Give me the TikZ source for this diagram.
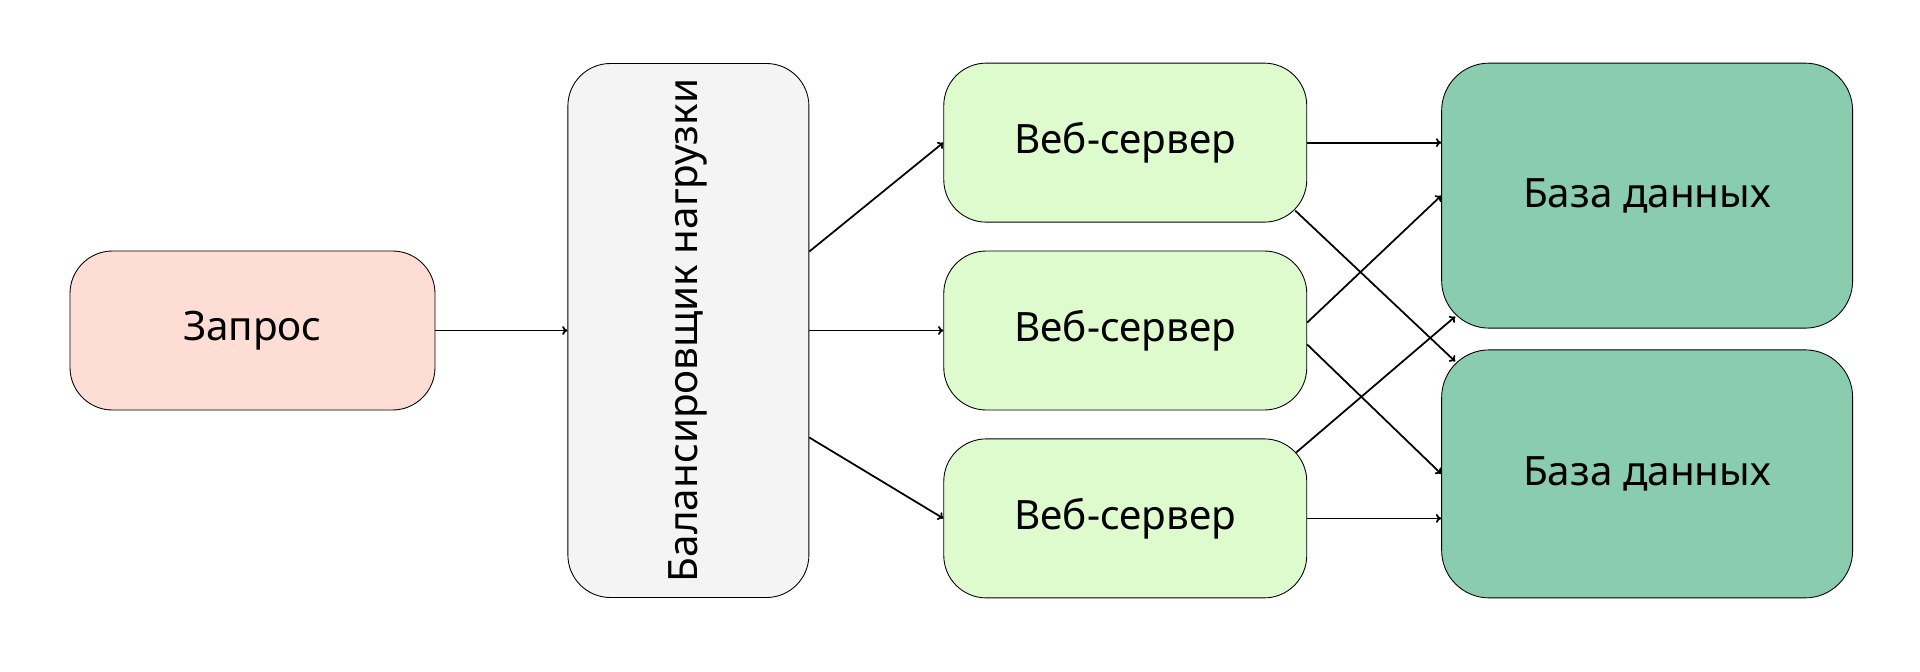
\documentclass[tikz,border=0pt]{standalone}
\usepackage{fontspec}
\setmainfont{Noto Sans}
\usetikzlibrary{positioning, arrows.meta}

\definecolor{reqfill}{RGB}{254,221,213}
\definecolor{lbfill}{RGB}{244,244,244}
\definecolor{webfill}{RGB}{222,251,206}
\definecolor{dbfill}{RGB}{137,204,175}

\begin{document}
\begin{tikzpicture}[
    box/.style={draw, line width=0.5pt, rounded corners=0.85cm,
                font=\fontsize{23}{28}\selectfont, align=center},
    req/.style={box, fill=reqfill, minimum width=7.3cm, minimum height=3.18cm},
    lb/.style={box, fill=lbfill, minimum width=4.82cm, minimum height=10.68cm},
    web/.style={box, fill=webfill, minimum width=7.26cm, minimum height=3.18cm},
    db/.style={box, fill=dbfill, rounded corners=0.95cm, minimum width=8.22cm},
    >={To[length=3pt, width=5pt]}, line width=1pt]
    \useasboundingbox (0,0) rectangle (38.4,-13.42);
    \node[req] (req) at (5.05,-6.61) {Запрос};
    \node[lb, right=2.64cm of req] (lb) {\rotatebox{90}{Балансировщик нагрузки}};
    \node[web, right=2.68cm of lb] (web2) {Веб-сервер};
    \node[web, above=0.56cm of web2] (web1) {Веб-сервер};
    \node[web, below=0.56cm of web2] (web3) {Веб-сервер};
    \node[db, minimum height=5.3cm, right=2.68cm of web1.north east, anchor=north west] (db1) {База данных};
    \node[db, minimum height=4.96cm, right=2.68cm of web3.south east, anchor=south west] (db2) {База данных};
    \path[->]
      (req) edge (lb)
      ([yshift=1.58cm]lb.east) edge (web1.west)
      (lb.east) edge (web2.west)
      ([yshift=-2.14cm]lb.east) edge (web3.west)
      (web1.east) edge (web1.east -| db1.west)
      ([shift={(-0.24,0.24)}]web1.south east) edge ([shift={(0.28,-0.24)}]db2.north west)
      ([yshift=0.16cm]web2.east) edge (db1.west)
      ([yshift=-0.28cm]web2.east) edge (db2.west)
      ([shift={(-0.22,-0.28)}]web3.north east) edge ([shift={(0.28,0.24)}]db1.south west)
      (web3.east) edge (web3.east -| db2.west);
\end{tikzpicture}
\end{document}
